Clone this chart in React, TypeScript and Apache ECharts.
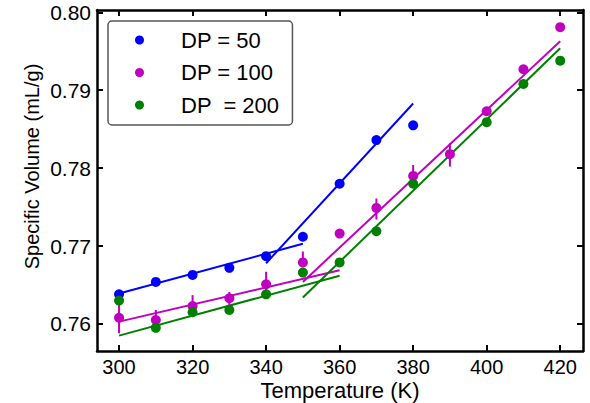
import React, { useEffect, useRef } from "react";
import * as echarts from "echarts";

const xTicks = [300, 320, 340, 360, 380, 400, 420];
const yTicks = [0.76, 0.77, 0.78, 0.79, 0.8];

const seriesNames = ["DP = 50", "DP = 100", "DP  = 200"];

const temps50 = [300, 310, 320, 330, 340, 350, 360, 370, 380];
const vol50 = [0.7638, 0.7654, 0.7663, 0.7672, 0.7687, 0.7712, 0.778, 0.7836, 0.7855];

const temps100 = [300, 310, 320, 330, 340, 350, 360, 370, 380, 390, 400, 410, 420];
const vol100 = [0.7608, 0.7605, 0.7623, 0.7633, 0.7651, 0.7679, 0.7716, 0.7749, 0.779, 0.7818, 0.7873, 0.7927, 0.7981];

const temps200 = [300, 310, 320, 330, 340, 350, 360, 370, 380, 400, 410, 420];
const vol200 = [0.763, 0.7595, 0.7615, 0.7618, 0.7638, 0.7666, 0.7679, 0.7719, 0.778, 0.7859, 0.7908, 0.7938];

// error bars for DP = 100: [temperature, low, high]
const err100 = [
  [300, 0.7588, 0.7628],
  [310, 0.7593, 0.7618],
  [320, 0.7614, 0.7637],
  [330, 0.7624, 0.7641],
  [340, 0.7639, 0.7667],
  [350, 0.7674, 0.7693],
  [370, 0.7734, 0.7761],
  [380, 0.7783, 0.7804],
  [390, 0.7802, 0.7832],
];

// linear fit segments (end points)
const fit50Low = [[300, 0.7639], [350, 0.7703]];
const fit50High = [[340, 0.7678], [380, 0.7883]];
const fit100Low = [[300, 0.7603], [360, 0.7669]];
const fit100High = [[350, 0.7654], [420, 0.7963]];
const fit200Low = [[300, 0.7585], [360, 0.7662]];
const fit200High = [[350, 0.7634], [420, 0.7954]];

const BLUE = "#0000ff";
const MAGENTA = "#bf00bf";
const GREEN = "#008000";
const FONT = "Liberation Sans, Arial, sans-serif";

const zip = (xs: number[], ys: number[]) => xs.map((x, i) => [x, ys[i]]);

export default function App() {
  const ref = useRef<HTMLDivElement>(null);
  useEffect(() => {
    if (!ref.current) return;
    const chart = echarts.init(ref.current, undefined, { renderer: "svg" });
    const xMin = 294;
    const xMax = 426.2;
    const yMin = 0.75653;
    const yMax = 0.8003;
    const axisLineStyle = { color: "#000", width: 2.5 };
    const tickStyle = { color: "#000", width: 2 };
    const fitLine = (data: number[][], color: string, z: number) => ({
      type: "line",
      name: "fit",
      data,
      symbol: "none",
      lineStyle: { color, width: 2 },
      z,
      silent: true,
    });
    const scatter = (name: string, data: number[][], color: string, z: number) => ({
      type: "scatter",
      name,
      data,
      symbol: "circle",
      symbolSize: 10,
      itemStyle: { color, opacity: 1 },
      z,
    });
    chart.setOption({
      animation: false,
      backgroundColor: "#fff",
      grid: { left: 97, right: 7, top: 10, bottom: 52 },
      legend: {
        data: seriesNames.map((n, i) => ({ name: n, icon: "circle", itemStyle: { color: [BLUE, MAGENTA, GREEN][i] } })),
        orient: "vertical",
        left: 108,
        top: 21,
        itemWidth: 9,
        itemHeight: 9,
        itemGap: 10.5,
        padding: [8, 13, 9, 27],
        backgroundColor: "#fff",
        borderColor: "#555",
        borderWidth: 1.5,
        borderRadius: 4,
        textStyle: {
          fontFamily: FONT,
          fontSize: 22,
          color: "#000",
          lineHeight: 22,
          padding: [0, 0, 0, 32],
        },
        selectedMode: false,
      },
      xAxis: [
        {
          type: "value",
          min: xMin,
          max: xMax,
          position: "bottom",
          splitLine: { show: false },
          axisLine: { lineStyle: axisLineStyle },
          axisTick: { inside: true, length: 6, lineStyle: tickStyle, customValues: xTicks },
          axisLabel: {
            customValues: xTicks,
            fontFamily: FONT,
            fontSize: 20,
            color: "#000",
            margin: 6,
          },
        },
        {
          type: "value",
          min: xMin,
          max: xMax,
          position: "top",
          splitLine: { show: false },
          axisLine: { lineStyle: axisLineStyle },
          axisTick: { inside: true, length: 6, lineStyle: tickStyle, customValues: xTicks },
          axisLabel: { show: false },
        },
      ],
      yAxis: [
        {
          type: "value",
          min: yMin,
          max: yMax,
          position: "left",
          splitLine: { show: false },
          axisLine: { show: true, lineStyle: axisLineStyle },
          axisTick: { show: true, inside: true, length: 6, lineStyle: tickStyle, customValues: yTicks },
          axisLabel: {
            customValues: yTicks,
            formatter: (v: number) => v.toFixed(2),
            fontFamily: FONT,
            fontSize: 21,
            color: "#000",
            margin: 6,
          },
        },
        {
          type: "value",
          min: yMin,
          max: yMax,
          position: "right",
          splitLine: { show: false },
          axisLine: { show: true, lineStyle: axisLineStyle },
          axisTick: { show: true, inside: true, length: 6, lineStyle: tickStyle, customValues: yTicks },
          axisLabel: { show: false },
        },
      ],
      graphic: [
        {
          type: "text",
          x: 340,
          y: 390,
          style: {
            text: "Temperature (K)",
            fontFamily: FONT,
            fontSize: 22,
            fill: "#000",
            align: "center",
            verticalAlign: "middle",
          },
        },
        {
          type: "text",
          x: 32,
          y: 166.5,
          rotation: Math.PI / 2,
          style: {
            text: "Specific Volume (mL/g)",
            fontFamily: FONT,
            fontSize: 20,
            fill: "#000",
            align: "center",
            verticalAlign: "middle",
          },
        },
      ],
      series: [
        fitLine(fit50Low, BLUE, 2),
        fitLine(fit50High, BLUE, 2),
        fitLine(fit100Low, MAGENTA, 2),
        fitLine(fit100High, MAGENTA, 2),
        fitLine(fit200Low, GREEN, 2),
        fitLine(fit200High, GREEN, 2),
        {
          type: "custom",
          name: "err",
          data: err100,
          z: 3,
          silent: true,
          renderItem: (_p: any, api: any) => {
            const a = api.coord([api.value(0), api.value(1)]);
            const b = api.coord([api.value(0), api.value(2)]);
            return {
              type: "line",
              shape: { x1: a[0], y1: a[1], x2: b[0], y2: b[1] },
              style: { stroke: MAGENTA, lineWidth: 2 },
            };
          },
        },
        scatter(seriesNames[0], zip(temps50, vol50), BLUE, 4),
        scatter(seriesNames[1], zip(temps100, vol100), MAGENTA, 4),
        scatter(seriesNames[2], zip(temps200, vol200), GREEN, 5),
      ],
    });
    return () => chart.dispose();
  }, []);
  return <div ref={ref} style={{ width: 590, height: 403, position: "absolute", left: 0, top: 0 }} />;
}
